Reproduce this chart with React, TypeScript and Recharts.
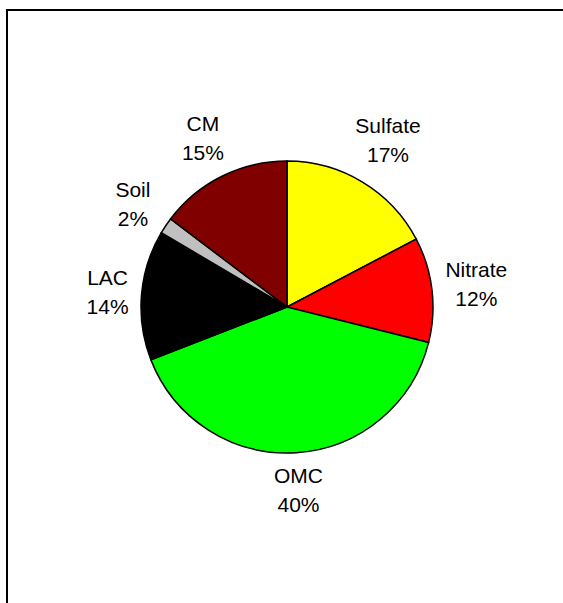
import { PieChart, Pie, Cell } from 'recharts'

const species = ['Sulfate', 'Nitrate', 'OMC', 'LAC', 'Soil', 'CM']
// shares; the labels show them rounded
const shares = [17.3, 11.6, 40.2, 14.4, 1.8, 14.7]
const sliceColors = ['#ffff00', '#ff0000', '#00ff00', '#000000', '#c0c0c0', '#800000']

const data = species.map((name, i) => ({ name, value: shares[i] }))

const RAD = Math.PI / 180
const FONT = '"Liberation Sans", Arial, sans-serif'
const FONT_SIZE = 21

// Arial advance widths (em) for the glyphs used in the labels
const GLYPH: Record<string, number> = {
  S: 0.667, u: 0.556, l: 0.222, f: 0.278, a: 0.556, t: 0.278, e: 0.556,
  N: 0.722, i: 0.222, r: 0.333, O: 0.778, M: 0.833, C: 0.722, L: 0.556,
  A: 0.667, o: 0.556, '%': 0.889,
}
const textWidth = (s: string) =>
  s.split('').reduce((w, ch) => w + (GLYPH[ch] ?? 0.556), 0) * FONT_SIZE

function renderLabel(props: any) {
  const { cx, cy, midAngle, outerRadius, name, percent } = props
  const cos = Math.cos(-midAngle * RAD)
  const sin = Math.sin(-midAngle * RAD)
  const pct = `${Math.round(percent * 100)}%`
  const hw = Math.max(textWidth(name), textWidth(pct)) / 2
  const hh = 25
  // push the two-line label box out until it clears the rim
  const extent = Math.abs(cos) * hw + Math.abs(sin) * hh
  const r = outerRadius + 11 + extent
  const x = cx + r * cos
  const y = cy + r * sin
  return (
    <text x={x} y={y} textAnchor="middle" fontFamily={FONT} fontSize={FONT_SIZE} fill="#000">
      <tspan x={x} y={y - 7}>{name}</tspan>
      <tspan x={x} y={y + 22}>{pct}</tspan>
    </text>
  )
}

export default function App() {
  return (
    <div style={{ position: 'fixed', left: 0, top: 0, width: 563, height: 603, background: '#fff', overflow: 'hidden' }}>
      {/* frame edges: only the top and left ones fall inside the picture */}
      <div style={{ position: 'absolute', left: 6, top: 9, width: 557, height: 2, background: '#000' }} />
      <div style={{ position: 'absolute', left: 6, top: 9, width: 2, height: 594, background: '#000' }} />
      <div style={{ position: 'absolute', left: 0, top: 0 }}>
        <PieChart width={563} height={603} margin={{ top: 0, right: 0, bottom: 0, left: 0 }}>
          <Pie
            data={data}
            dataKey="value"
            nameKey="name"
            cx={287}
            cy={307}
            outerRadius={146}
            startAngle={90}
            endAngle={-270}
            stroke="#000"
            strokeWidth={1.5}
            label={renderLabel}
            labelLine={false}
            isAnimationActive={false}
          >
            {data.map((entry, i) => (
              <Cell key={entry.name} fill={sliceColors[i]} />
            ))}
          </Pie>
        </PieChart>
      </div>
    </div>
  )
}
